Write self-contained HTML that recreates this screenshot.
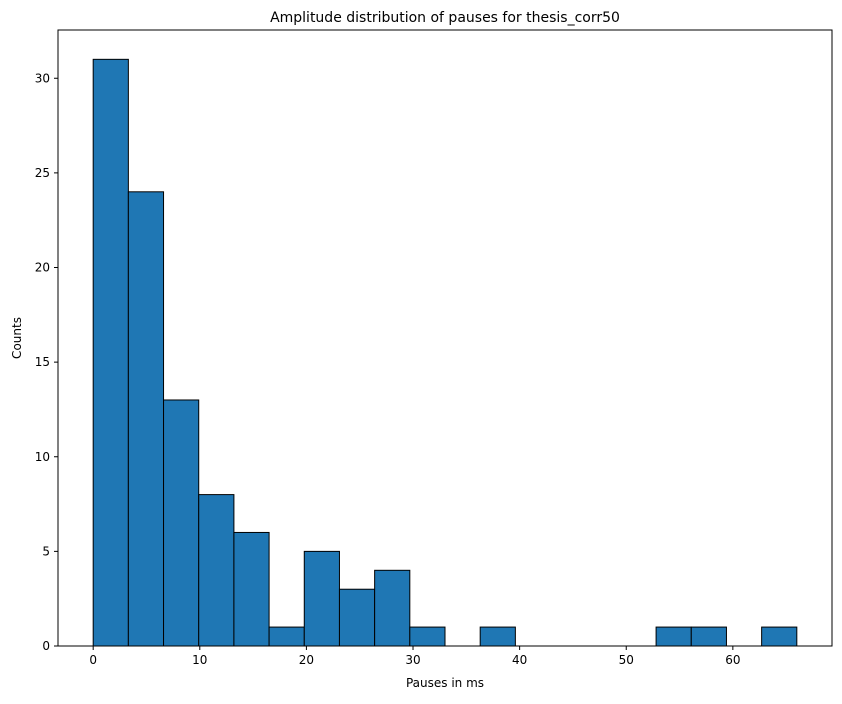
<!DOCTYPE html>
<html><head><meta charset="utf-8"><style>
body{margin:0;background:#fff;}
svg text{font-family:"DejaVu Sans","Liberation Sans",sans-serif;fill:#000;}
</style></head><body>
<svg id="chart" width="842" height="699" xmlns="http://www.w3.org/2000/svg">
<rect width="842" height="699" fill="#fff"/>
<g id="bars"></g>
<g id="xticks"></g>
<g id="yticks"></g>
<rect x="58" y="30" width="774" height="616" fill="none" stroke="#000" stroke-width="1"/>
<text x="445" y="22" font-size="14" text-anchor="middle">Amplitude distribution of pauses for thesis_corr50</text>
<text x="445" y="687" font-size="12" text-anchor="middle">Pauses in ms</text>
<text transform="translate(21,338) rotate(-90)" font-size="12" text-anchor="middle">Counts</text>
</svg>
<script>
const counts=[31,24,13,8,6,1,5,3,4,1,0,1,0,0,0,0,1,1,0,1];
const binStart=0, binWidth=3.3;
const xTicks=[0,10,20,30,40,50,60];
const yTicks=[0,5,10,15,20,25,30];
const L=58,R=832,T=30,B=646;
const xmin=-3.3,xmax=69.3,ymin=0,ymax=32.55;
const xs=v=>L+(v-xmin)/(xmax-xmin)*(R-L);
const ys=v=>B-(v-ymin)/(ymax-ymin)*(B-T);
const NS="http://www.w3.org/2000/svg";
const bars=document.getElementById('bars');
counts.forEach((c,i)=>{
  if(c<=0)return;
  const x0=xs(binStart+i*binWidth),x1=xs(binStart+(i+1)*binWidth);
  const r=document.createElementNS(NS,'rect');
  
  
  r.setAttribute('x',x0);r.setAttribute('width',x1-x0);
  r.setAttribute('y',ys(c));r.setAttribute('height',ys(0)-ys(c));
  r.setAttribute('fill','#1f77b4');r.setAttribute('stroke','#000');r.setAttribute('stroke-width','1');
  bars.appendChild(r);
});
const xg=document.getElementById('xticks');
xTicks.forEach(v=>{
  const x=xs(v);
  const l=document.createElementNS(NS,'line');
  
  
  l.setAttribute('x1',x);l.setAttribute('x2',x);l.setAttribute('y1',B);l.setAttribute('y2',B+4);l.setAttribute('stroke','#000');
  xg.appendChild(l);
  const t=document.createElementNS(NS,'text');
  
  
  t.setAttribute('x',x);t.setAttribute('y',B+18);t.setAttribute('font-size','12');t.setAttribute('text-anchor','middle');
  t.textContent=v;xg.appendChild(t);
});
const yg=document.getElementById('yticks');
yTicks.forEach(v=>{
  const y=ys(v);
  const l=document.createElementNS(NS,'line');
  
  
  l.setAttribute('x1',L-4);l.setAttribute('x2',L);l.setAttribute('y1',y);l.setAttribute('y2',y);l.setAttribute('stroke','#000');
  yg.appendChild(l);
  const t=document.createElementNS(NS,'text');
  
  
  t.setAttribute('x',L-8);t.setAttribute('y',y+4);t.setAttribute('font-size','12');t.setAttribute('text-anchor','end');
  t.textContent=v;yg.appendChild(t);
});
</script>
</body></html>
